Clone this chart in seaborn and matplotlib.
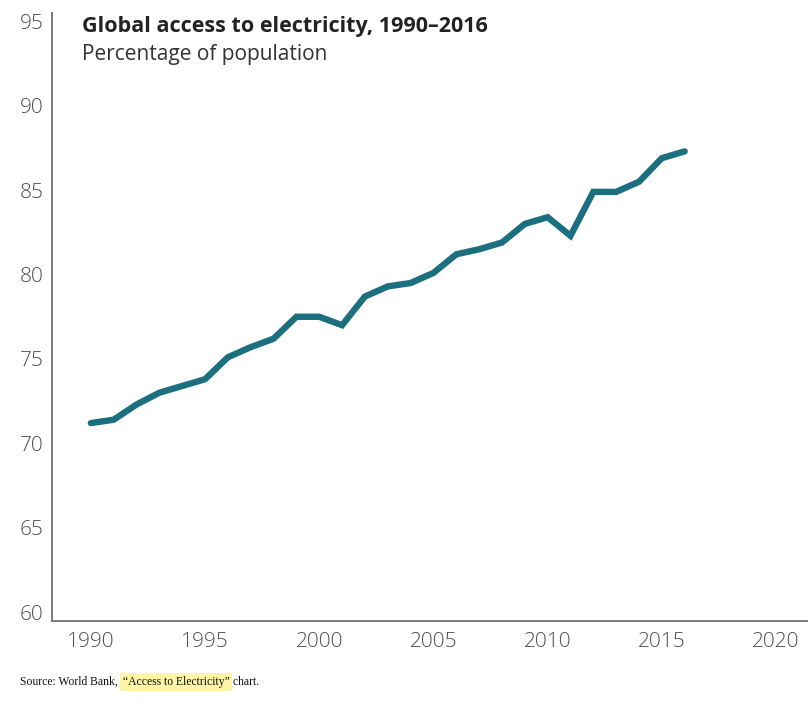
#!/usr/bin/env python3
"""Line chart: global access to electricity, 1990-2016 (World Bank)."""

import pandas as pd
import matplotlib.pyplot as plt
import seaborn as sns

# data
years = list(range(1990, 2017))
access_pct = [
    71.2, 71.4, 72.3, 73.0, 73.4, 73.8, 75.1, 75.7, 76.2, 77.5,
    77.5, 77.0, 78.7, 79.3, 79.5, 80.1, 81.2, 81.5, 81.9, 83.0,
    83.4, 82.3, 84.9, 84.9, 85.5, 86.9, 87.3,
]
x_ticks = [1990, 1995, 2000, 2005, 2010, 2015, 2020]
y_ticks = [60, 65, 70, 75, 80, 85, 90, 95]

title = "Global access to electricity, 1990\u20132016"
subtitle = "Percentage of population"
source_pre = "Source: World Bank,"
source_link = "\u201cAccess to Electricity\u201d"
source_post = " chart."

LINE_COLOR = "#1b6f7f"
AXIS_COLOR = "#7a7a7a"
TICK_COLOR = "#4f4f4f"

sns.set_style("white")
plt.rcParams["font.family"] = ["Open Sans", "DejaVu Sans"]

df = pd.DataFrame({"year": years, "access": access_pct})

fig = plt.figure(figsize=(8.08, 7.07), dpi=100)
ax = fig.add_axes([0.0644, 0.1216, 0.9356, 0.86])

sns.lineplot(data=df, x="year", y="access", color=LINE_COLOR,
             linewidth=4.6, ax=ax, solid_joinstyle="miter")

ax.set_xlim(1988.3, 2021.4)
ax.set_ylim(59.47, 95.5)
ax.set_xticks(x_ticks)
ax.set_yticks(y_ticks)
ax.set_xlabel("")
ax.set_ylabel("")
ax.tick_params(axis="both", length=0, labelsize=15, colors=TICK_COLOR)
ax.tick_params(axis="y", pad=6)
ax.tick_params(axis="x", pad=8)
for lbl in ax.get_xticklabels() + ax.get_yticklabels():
    lbl.set_fontweight("light")

for side in ("top", "right"):
    ax.spines[side].set_visible(False)
for side in ("left", "bottom"):
    ax.spines[side].set_color(AXIS_COLOR)
    ax.spines[side].set_linewidth(1.4)

fig.text(0.101, 0.962, title, fontsize=15.5, fontweight="bold",
         color="#222222", va="center", ha="left")
fig.text(0.101, 0.923, subtitle, fontsize=15, color="#333333",
         va="center", ha="left")

# source line, middle part highlighted
serif = ["Liberation Serif", "DejaVu Serif"]
t1 = fig.text(0.025, 0.031, source_pre, fontsize=8.4, family=serif,
              color="#111111", va="baseline", ha="left")
t2 = ax.annotate(source_link, xy=(1, 0), xycoords=t1, xytext=(3.5, 0),
                 textcoords="offset points", va="bottom", ha="left",
                 fontsize=8.4, family=serif, color="#111111",
                 bbox=dict(boxstyle="square,pad=0.25", fc="#fff5a8", ec="none"))
ax.annotate(source_post, xy=(1, 0), xycoords=t2, xytext=(0.5, 0),
            textcoords="offset points", va="bottom", ha="left",
            fontsize=8.4, family=serif, color="#111111")

fig.savefig("out.png", dpi=100)
